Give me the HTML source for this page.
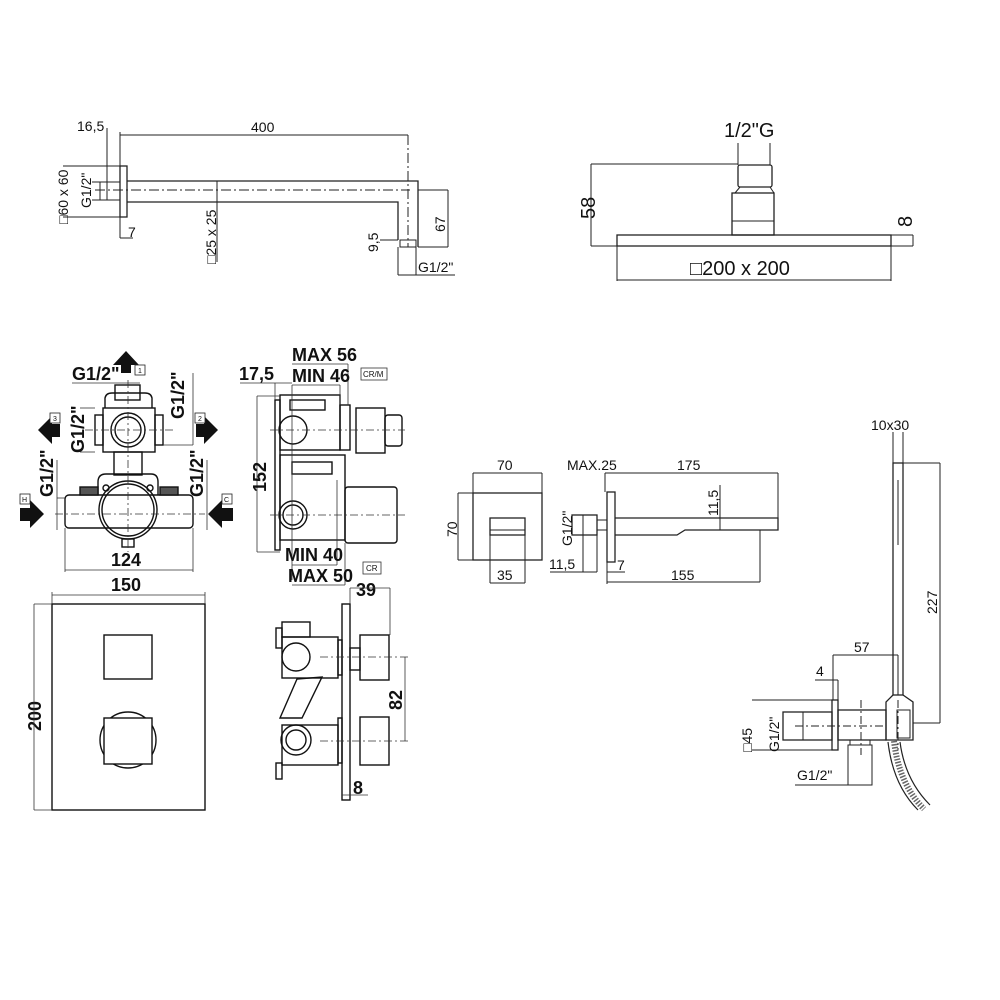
<!DOCTYPE html>
<html><head><meta charset="utf-8"><style>
html,body{margin:0;padding:0;background:#fff}
svg{display:block}
text{font-family:"Liberation Sans",sans-serif;fill:#111}
.b{font-weight:bold;font-size:18px}
.t{font-size:14px}
.m{font-size:20px}
</style></head><body>
<svg width="1000" height="1000" viewBox="0 0 1000 1000" xmlns="http://www.w3.org/2000/svg">
<g fill="none" stroke="#222" stroke-width="1">
<line x1="120" y1="135" x2="408" y2="135"/>
<line x1="107" y1="128" x2="107" y2="200"/>
<line x1="120" y1="132" x2="120" y2="238"/>
<line x1="120" y1="238" x2="133" y2="238"/>
<rect x="120" y="166" width="7" height="51" stroke-width="1.3"/>
<rect x="100" y="182" width="20" height="18"/>
<path d="M127 181 H418 V247 M127 202 H398 V240" stroke-width="1.3"/>
<rect x="400" y="240" width="16" height="7"/>
<line x1="398" y1="247" x2="398" y2="275"/><line x1="416" y1="247" x2="416" y2="275"/>
<line x1="398" y1="275" x2="455" y2="275"/>
<line x1="95" y1="190" x2="410" y2="190" stroke-dasharray="10,3,2,3"/>
<line x1="408" y1="135" x2="408" y2="247" stroke-dasharray="10,3,2,3"/>
<line x1="63" y1="166" x2="120" y2="166"/><line x1="63" y1="217" x2="120" y2="217"/>
<line x1="92" y1="182" x2="100" y2="182"/><line x1="92" y1="200" x2="100" y2="200"/>
<line x1="217" y1="181" x2="217" y2="262"/>
<line x1="418" y1="190" x2="448" y2="190"/><line x1="418" y1="247" x2="448" y2="247"/><line x1="448" y1="190" x2="448" y2="247"/>
<line x1="380" y1="240" x2="398" y2="240"/>
</g>
<g class="t">
<text x="77" y="131">16,5</text>
<text x="251" y="132">400</text>
<text x="128" y="237">7</text>
<text x="418" y="272">G1/2"</text>
<text transform="translate(68,224) rotate(-90)">□60 x 60</text>
<text transform="translate(91,208) rotate(-90)">G1/2"</text>
<text transform="translate(216,264) rotate(-90)">□25 x 25</text>
<text transform="translate(445,232) rotate(-90)">67</text>
<text transform="translate(378,252) rotate(-90)">9,5</text>
</g>

<g fill="none" stroke="#222" stroke-width="1">
<line x1="738" y1="143" x2="738" y2="165"/><line x1="770" y1="143" x2="770" y2="165"/>
<rect x="738" y="165" width="34" height="22" rx="2" stroke-width="1.3"/>
<path d="M740 187 L735 193 M770 187 L774 193"/>
<rect x="732" y="193" width="42" height="42" stroke-width="1.3"/>
<line x1="732" y1="221" x2="774" y2="221"/>
<rect x="617" y="235" width="274" height="11" stroke-width="1.3"/>
<line x1="591" y1="164" x2="738" y2="164"/><line x1="591" y1="246" x2="617" y2="246"/><line x1="591" y1="164" x2="591" y2="246"/>
<line x1="891" y1="235" x2="913" y2="235"/><line x1="891" y1="246" x2="913" y2="246"/><line x1="913" y1="235" x2="913" y2="246"/>
<line x1="617" y1="246" x2="617" y2="281"/><line x1="891" y1="246" x2="891" y2="281"/><line x1="617" y1="280" x2="891" y2="280"/>
</g>
<g class="m">
<text x="724" y="137">1/2"G</text>
<text x="690" y="275">□200 x 200</text>
<text transform="translate(595,219) rotate(-90)">58</text>
<text transform="translate(912,227) rotate(-90)">8</text>
</g>

<g fill="none" stroke="#111" stroke-width="1.4">
<rect x="115" y="385" width="25" height="15"/>
<path d="M105 408 V398 Q106 393 112 393 H145 Q151 393 152 398 V408"/>
<rect x="103" y="408" width="52" height="44"/>
<rect x="95" y="415" width="8" height="30"/><rect x="155" y="415" width="8" height="30"/>
<circle cx="128" cy="430" r="17"/><circle cx="128" cy="430" r="13"/>
<rect x="114" y="452" width="28" height="23"/>
<path d="M98 495 V482 Q98 474 106 474 H151 Q158 474 158 482 V495"/>
<rect x="65" y="495" width="128" height="33" rx="4"/>
<circle cx="128" cy="510" r="29"/><circle cx="128" cy="510" r="26"/>
<circle cx="106" cy="488" r="3"/><circle cx="150" cy="488" r="3"/>
<rect x="122" y="539" width="12" height="8"/>
<rect x="80" y="487" width="18" height="8" fill="#555"/><rect x="160" y="487" width="18" height="8" fill="#555"/>
</g>
<g fill="none" stroke="#333" stroke-width="0.8">
<line x1="128" y1="380" x2="128" y2="552" stroke-dasharray="8,3,2,3"/>
<line x1="85" y1="430" x2="175" y2="430" stroke-dasharray="8,3,2,3"/>
<line x1="55" y1="514" x2="205" y2="514" stroke-dasharray="8,3,2,3"/>
<line x1="72" y1="383" x2="140" y2="383"/>
<line x1="95" y1="408" x2="80" y2="408"/><line x1="95" y1="452" x2="80" y2="452"/>
<line x1="193" y1="373" x2="193" y2="445"/><line x1="163" y1="445" x2="193" y2="445"/>
<line x1="57" y1="460" x2="57" y2="530"/><line x1="57" y1="498" x2="65" y2="498"/>
<line x1="207" y1="460" x2="207" y2="530"/>
<line x1="65" y1="528" x2="65" y2="572"/><line x1="193" y1="528" x2="193" y2="572"/>
<line x1="65" y1="570" x2="193" y2="570"/>
<line x1="52" y1="595" x2="205" y2="595"/>
</g>
<g fill="#111">
<polygon points="126,351 139,365 131,365 131,373 121,373 121,365 113,365"/>
<polygon points="38,430 52,416 52,424 60,424 60,437 52,437 52,444"/>
<polygon points="218,430 204,416 204,424 196,424 196,437 204,437 204,444"/>
<polygon points="44,514 30,500 30,508 20,508 20,521 30,521 30,528"/>
<polygon points="208,514 222,500 222,508 233,508 233,521 222,521 222,528"/>
</g>
<g fill="#fff" stroke="#222" stroke-width="0.8">
<rect x="135" y="365" width="10" height="10"/><rect x="50" y="413" width="10" height="10"/>
<rect x="195" y="413" width="10" height="10"/><rect x="20" y="494" width="10" height="10"/>
<rect x="222" y="494" width="10" height="10"/>
</g>
<g font-size="7">
<text x="138" y="373">1</text><text x="53" y="421">3</text><text x="198" y="421">2</text><text x="22" y="502">H</text><text x="224" y="502">C</text>
</g>
<g class="b">
<text x="72" y="380">G1/2"</text>
<text transform="translate(84,453) rotate(-90)">G1/2"</text>
<text transform="translate(184,419) rotate(-90)">G1/2"</text>
<text transform="translate(53,497) rotate(-90)">G1/2"</text>
<text transform="translate(203,497) rotate(-90)">G1/2"</text>
<text x="111" y="566">124</text>
<text x="111" y="591">150</text>
</g>

<g fill="none" stroke="#111" stroke-width="1.4">
<rect x="275" y="400" width="5" height="150"/>
<rect x="280" y="395" width="60" height="55"/>
<rect x="290" y="400" width="35" height="10"/>
<rect x="340" y="405" width="10" height="45"/>
<rect x="356" y="408" width="29" height="45"/>
<rect x="385" y="415" width="17" height="31" rx="3"/>
<circle cx="293" cy="430" r="14"/>
<rect x="280" y="455" width="65" height="85"/>
<rect x="292" y="462" width="40" height="12"/>
<rect x="345" y="487" width="52" height="56" rx="3"/>
<circle cx="293" cy="515" r="14"/><circle cx="293" cy="515" r="10"/>
</g>
<g fill="none" stroke="#333" stroke-width="0.8">
<line x1="292" y1="385" x2="292" y2="580"/>
<line x1="270" y1="430" x2="405" y2="430" stroke-dasharray="8,3,2,3"/>
<line x1="270" y1="515" x2="405" y2="515" stroke-dasharray="8,3,2,3"/>
<line x1="257" y1="396" x2="257" y2="552"/><line x1="257" y1="396" x2="280" y2="396"/><line x1="257" y1="552" x2="280" y2="552"/>
<line x1="240" y1="383" x2="292" y2="383"/>
<line x1="275" y1="383" x2="275" y2="400"/>
<line x1="292" y1="364" x2="348" y2="364"/><line x1="348" y1="364" x2="348" y2="405"/>
<line x1="292" y1="385" x2="340" y2="385"/><line x1="340" y1="385" x2="340" y2="405"/>
<line x1="292" y1="565" x2="337" y2="565"/><line x1="337" y1="480" x2="337" y2="565"/>
<line x1="292" y1="585" x2="345" y2="585"/><line x1="345" y1="543" x2="345" y2="585"/>
<rect x="361" y="368" width="26" height="12"/><rect x="363" y="562" width="18" height="12"/>
</g>
<g font-size="8"><text x="363" y="377">CR/M</text><text x="366" y="571">CR</text></g>
<g class="b">
<text x="292" y="361">MAX 56</text>
<text x="292" y="382">MIN 46</text>
<text x="239" y="380">17,5</text>
<text transform="translate(266,492) rotate(-90)">152</text>
<text x="285" y="561">MIN 40</text>
<text x="288" y="582">MAX 50</text>
<text x="356" y="596">39</text>
<text transform="translate(402,710) rotate(-90)">82</text>
<text x="353" y="794">8</text>
<text transform="translate(41,731) rotate(-90)">200</text>
</g>

<g fill="none" stroke="#111" stroke-width="1.4">
<rect x="52" y="604" width="153" height="206"/>
<rect x="104" y="635" width="48" height="44"/>
<circle cx="128" cy="740" r="28"/>
<rect x="104" y="718" width="48" height="46" fill="#fff"/>
</g>
<g fill="none" stroke="#333" stroke-width="0.8">
<line x1="34" y1="604" x2="34" y2="810"/><line x1="34" y1="604" x2="52" y2="604"/><line x1="34" y1="810" x2="52" y2="810"/>
<line x1="52" y1="592" x2="52" y2="604"/><line x1="205" y1="592" x2="205" y2="604"/>
</g>

<g fill="none" stroke="#111" stroke-width="1.4">
<rect x="342" y="604" width="8" height="196"/>
<rect x="282" y="637" width="56" height="41"/>
<rect x="282" y="622" width="28" height="15"/>
<rect x="276" y="628" width="6" height="20"/>
<circle cx="296" cy="657" r="14"/>
<rect x="338" y="640" width="4" height="35"/>
<rect x="360" y="635" width="29" height="45"/>
<rect x="350" y="648" width="10" height="22"/>
<polygon points="297,679 322,677 302,718 280,718"/>
<rect x="282" y="725" width="56" height="40"/>
<circle cx="296" cy="740" r="15"/><circle cx="296" cy="740" r="10"/>
<rect x="338" y="718" width="4" height="45"/>
<rect x="360" y="717" width="29" height="48"/>
<rect x="276" y="763" width="6" height="16"/>
</g>
<g fill="none" stroke="#333" stroke-width="0.8">
<line x1="350" y1="588" x2="390" y2="588"/><line x1="350" y1="588" x2="350" y2="604"/><line x1="390" y1="588" x2="390" y2="635"/>
<line x1="320" y1="657" x2="408" y2="657" stroke-dasharray="8,3,2,3"/>
<line x1="320" y1="741" x2="408" y2="741" stroke-dasharray="8,3,2,3"/>
<line x1="405" y1="657" x2="405" y2="741"/>
<line x1="342" y1="795" x2="368" y2="795"/>
</g>

<g fill="none" stroke="#222" stroke-width="1">
<rect x="473" y="493" width="69" height="67" stroke-width="1.3"/>
<rect x="490" y="518" width="35" height="17" stroke-width="1.3"/>
<line x1="490" y1="530" x2="525" y2="530"/>
<line x1="473" y1="473" x2="542" y2="473"/><line x1="473" y1="473" x2="473" y2="493"/><line x1="542" y1="473" x2="542" y2="493"/>
<line x1="458" y1="493" x2="473" y2="493"/><line x1="458" y1="560" x2="473" y2="560"/><line x1="458" y1="493" x2="458" y2="560"/>
<line x1="490" y1="535" x2="490" y2="583"/><line x1="525" y1="535" x2="525" y2="583"/><line x1="490" y1="583" x2="525" y2="583"/>
<rect x="607" y="492" width="8" height="70" stroke-width="1.3"/>
<rect x="572" y="515" width="25" height="20" stroke-width="1.3"/>
<rect x="597" y="520" width="10" height="10"/>
<path d="M615 518 H778 V530 H685 L677 535 H615" stroke-width="1.3"/>
<line x1="760" y1="530" x2="760" y2="582"/>
<line x1="605" y1="473" x2="778" y2="473"/><line x1="778" y1="473" x2="778" y2="518"/>
<line x1="605" y1="473" x2="605" y2="492"/>
<line x1="720" y1="485" x2="720" y2="530"/>
<line x1="583" y1="515" x2="583" y2="535"/>
<line x1="550" y1="572" x2="597" y2="572"/><line x1="597" y1="535" x2="597" y2="572"/><line x1="583" y1="535" x2="583" y2="572"/>
<line x1="607" y1="572" x2="625" y2="572"/>
<line x1="607" y1="562" x2="607" y2="584"/><line x1="607" y1="582" x2="760" y2="582"/>
</g>
<g class="t">
<text x="497" y="470">70</text>
<text transform="translate(457,537) rotate(-90)">70</text>
<text x="497" y="580">35</text>
<text x="567" y="470">MAX.25</text>
<text x="677" y="470">175</text>
<text transform="translate(718,516) rotate(-90)">11,5</text>
<text transform="translate(572,546) rotate(-90)">G1/2"</text>
<text x="549" y="569">11,5</text>
<text x="617" y="570">7</text>
<text x="671" y="580">155</text>
</g>

<g fill="none" stroke="#222" stroke-width="1">
<rect x="893" y="463" width="10" height="232" stroke-width="1.3"/>
<line x1="898" y1="480" x2="898" y2="545"/>
<line x1="893" y1="432" x2="893" y2="463"/><line x1="903" y1="432" x2="903" y2="463"/>
<line x1="903" y1="463" x2="940" y2="463"/><line x1="940" y1="463" x2="940" y2="723"/><line x1="913" y1="723" x2="940" y2="723"/>
<path d="M893 695 L886 702 V740 H913 V702 L903 695" stroke-width="1.3"/>
<rect x="897" y="710" width="13" height="28"/>
<rect x="832" y="700" width="6" height="50" stroke-width="1.3"/>
<rect x="838" y="710" width="48" height="30" stroke-width="1.3"/>
<rect x="783" y="712" width="49" height="28" stroke-width="1.3"/>
<line x1="803" y1="712" x2="803" y2="740"/>
<rect x="848" y="745" width="24" height="40"/>
<rect x="850" y="740" width="20" height="5"/>
<line x1="795" y1="726" x2="885" y2="726" stroke-dasharray="8,3,2,3"/>
<line x1="861" y1="700" x2="861" y2="755" stroke-dasharray="8,3,2,3"/>
<line x1="898" y1="700" x2="898" y2="750" stroke-dasharray="8,3,2,3"/>
<line x1="833" y1="655" x2="898" y2="655"/><line x1="833" y1="655" x2="833" y2="700"/><line x1="898" y1="655" x2="898" y2="695"/>
<line x1="815" y1="680" x2="838" y2="680"/><line x1="838" y1="680" x2="838" y2="700"/>
<line x1="752" y1="700" x2="832" y2="700"/><line x1="752" y1="750" x2="832" y2="750"/>
<line x1="795" y1="785" x2="848" y2="785"/>
<path d="M888 742 Q893 785 918 810 M900 742 Q905 780 930 805" stroke-width="1.2"/>
<path d="M888 742 Q893 785 918 810" stroke-dasharray="1.5,1.5" stroke-width="6" stroke="#666" transform="translate(6,-1)"/>
</g>
<g class="t">
<text x="871" y="430">10x30</text>
<text transform="translate(937,614) rotate(-90)">227</text>
<text x="854" y="652">57</text>
<text x="816" y="676">4</text>
<text transform="translate(752,752) rotate(-90)">□45</text>
<text transform="translate(779,752) rotate(-90)">G1/2"</text>
<text x="797" y="780">G1/2"</text>
</g>
</svg>
</body></html>
